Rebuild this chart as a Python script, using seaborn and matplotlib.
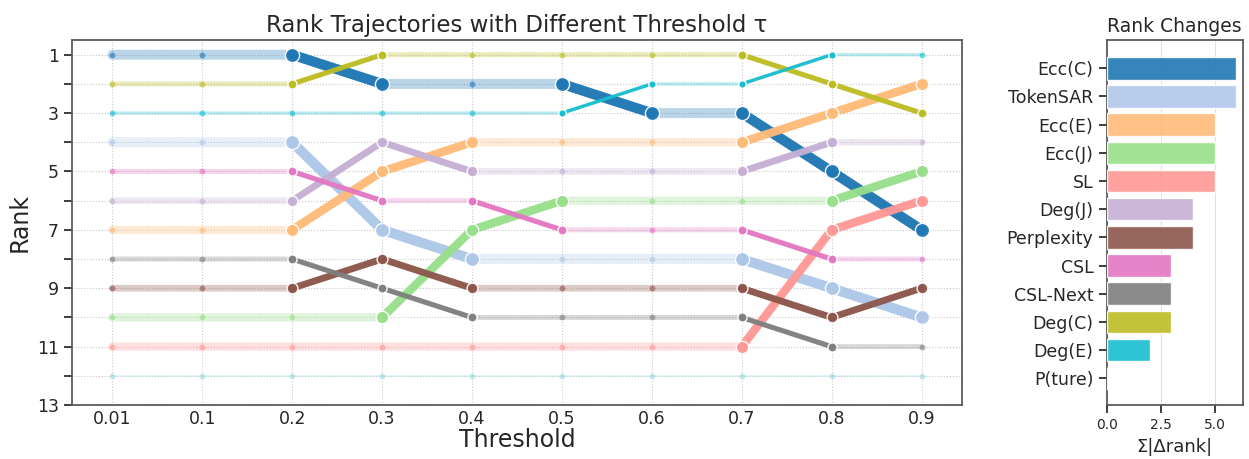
import matplotlib
matplotlib.use("Agg")
import matplotlib.pyplot as plt
import seaborn as sns
import pandas as pd

# Data
thresholds = ["0.01", "0.1", "0.2", "0.3", "0.4", "0.5", "0.6", "0.7", "0.8", "0.9"]
methods = ["Ecc(C)", "TokenSAR", "Ecc(E)", "Ecc(J)", "SL", "Deg(J)",
           "Perplexity", "CSL", "CSL-Next", "Deg(C)", "Deg(E)", "P(ture)"]
colors = ["#1f77b4", "#aec7e8", "#ffbb78", "#98df8a", "#ff9896", "#c5b0d5",
          "#8c564b", "#e377c2", "#7f7f7f", "#bcbd22", "#17becf", "#9edae5"]

rank_ecc_c = [1, 1, 1, 2, 2, 2, 3, 3, 5, 7]
rank_tokensar = [4, 4, 4, 7, 8, 8, 8, 8, 9, 10]
rank_ecc_e = [7, 7, 7, 5, 4, 4, 4, 4, 3, 2]
rank_ecc_j = [10, 10, 10, 10, 7, 6, 6, 6, 6, 5]
rank_sl = [11, 11, 11, 11, 11, 11, 11, 11, 7, 6]
rank_deg_j = [6, 6, 6, 4, 5, 5, 5, 5, 4, 4]
rank_perplexity = [9, 9, 9, 8, 9, 9, 9, 9, 10, 9]
rank_csl = [5, 5, 5, 6, 6, 7, 7, 7, 8, 8]
rank_csl_next = [8, 8, 8, 9, 10, 10, 10, 10, 11, 11]
rank_deg_c = [2, 2, 2, 1, 1, 1, 1, 1, 2, 3]
rank_deg_e = [3, 3, 3, 3, 3, 3, 2, 2, 1, 1]
rank_ptrue = [12, 12, 12, 12, 12, 12, 12, 12, 12, 12]

all_ranks = [rank_ecc_c, rank_tokensar, rank_ecc_e, rank_ecc_j, rank_sl, rank_deg_j,
             rank_perplexity, rank_csl, rank_csl_next, rank_deg_c, rank_deg_e, rank_ptrue]

rows = []
for m, r in zip(methods, all_ranks):
    for i, v in enumerate(r):
        rows.append({"method": m, "pos": i, "rank": v})
df = pd.DataFrame(rows)

total_change = {m: sum(abs(r[i + 1] - r[i]) for i in range(len(r) - 1))
                for m, r in zip(methods, all_ranks)}
bar_df = pd.DataFrame({"method": methods,
                       "change": [total_change[m] for m in methods]})
palette = dict(zip(methods, colors))

sns.set_theme(style="ticks")
plt.rcParams["font.family"] = ["DejaVu Sans"]

fig = plt.figure(figsize=(12.49, 4.59), dpi=100)
ax = fig.add_axes([0.0576, 0.1176, 0.7126, 0.795])
ax2 = fig.add_axes([0.886, 0.1176, 0.109, 0.795])

# faded full trajectories
for m in methods:
    lw = max(1.2, 1.2 * total_change[m])
    sub = df[df["method"] == m]
    sns.lineplot(data=sub, x="pos", y="rank", color=palette[m], lw=lw,
                 alpha=0.3, ax=ax, legend=False, zorder=2)
    sns.scatterplot(data=sub, x="pos", y="rank", color=palette[m], s=18,
                    alpha=0.6, linewidth=0, ax=ax, legend=False, zorder=3)

# solid segments where the rank changes
for m in methods:
    lw = max(1.2, 1.2 * total_change[m])
    sub = df[df["method"] == m].reset_index(drop=True)
    big = set()
    for i in range(len(sub) - 1):
        if sub.loc[i, "rank"] != sub.loc[i + 1, "rank"]:
            seg = sub.iloc[i:i + 2]
            sns.lineplot(data=seg, x="pos", y="rank", color=palette[m], lw=lw,
                         alpha=0.95, ax=ax, legend=False, zorder=4)
            big.update([i, i + 1])
    if big:
        pts = sub.iloc[sorted(big)]
        sns.scatterplot(data=pts, x="pos", y="rank", color=palette[m],
                        s=(3 + lw) ** 2, edgecolor="white", linewidth=1,
                        alpha=0.95, ax=ax, legend=False, zorder=5)

ax.set_xlim(-0.45, 9.45)
ax.set_ylim(13, 0.5)
ax.set_xticks(range(len(thresholds)))
ax.set_xticklabels(thresholds, fontsize=12.5)
ax.set_yticks(range(1, 14))
ax.set_yticklabels([str(v) if v % 2 == 1 else "" for v in range(1, 14)], fontsize=12.5)
ax.tick_params(axis="x", length=0)
ax.grid(True, linestyle=":", color="#c8c8c8", linewidth=0.8)
ax.set_xlabel("Threshold", fontsize=17, labelpad=0)
ax.set_ylabel("Rank", fontsize=17)
ax.set_title("Rank Trajectories with Different Threshold τ", fontsize=16.5)
for s in ax.spines.values():
    s.set_color("#555555")

# bar chart of total rank changes
sns.barplot(data=bar_df, y="method", x="change", hue="method", palette=palette,
            order=methods, hue_order=methods, saturation=1, alpha=0.9, width=0.8,
            legend=False, ax=ax2, zorder=3)
ax2.set_xlim(0, 6.3)
ax2.set_ylim(11.95, -1.0)
ax2.set_xticks([0, 2.5, 5.0])
ax2.set_xticklabels(["0.0", "2.5", "5.0"], fontsize=10)
ax2.tick_params(axis="y", labelsize=12.5)
ax2.grid(True, axis="x", color="#e0e0e0", linewidth=0.8, zorder=0)
ax2.set_ylabel("")
ax2.set_xlabel("Σ|Δrank|", fontsize=13)
ax2.set_title("Rank Changes", fontsize=13.5)
for s in ax2.spines.values():
    s.set_color("#555555")

fig.savefig("out.png", dpi=100)
